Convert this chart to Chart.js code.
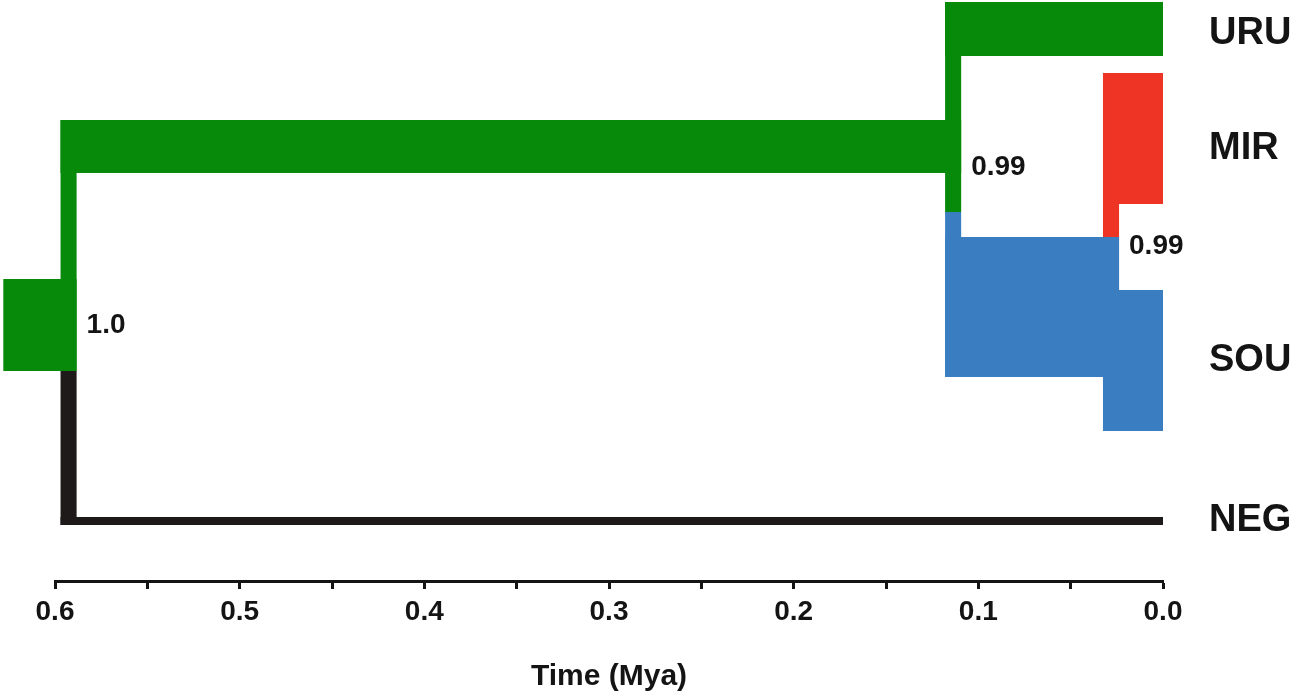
<!DOCTYPE html>
<html>
<head>
<meta charset="utf-8">
<style>
  html, body { margin: 0; padding: 0; background: #ffffff; }
  #wrap { width: 1293px; height: 697px; position: relative; }
</style>
<script src="https://cdn.jsdelivr.net/npm/chart.js@4.4.1/dist/chart.umd.min.js"></script>
</head>
<body>
<div id="wrap"><canvas id="chart"></canvas></div>
<script>
// ---------------- data ----------------
// tip populations and the lane (tree-layout units, top = 0) where each tip name sits
const taxa = ['URU', 'MIR', 'SOU', 'NEG'];
const taxonLane = [34, 149, 361, 521];

// divergence events (ages in Mya) with posterior support
const splitNames = ['root', '(URU,(MIR,SOU))', '(MIR,SOU)'];
const splitAge = [0.597, 0.118, 0.0325];
const splitSupport = ['1.0', '0.99', '0.99'];
const splitLabelLane = [325, 167, 246];
const splitMeetLane = [371, 212, 237];

// populations (branches); thickness of a branch = population size (lane units)
const popNames = ['root', 'URU+MIR+SOU', 'NEG', 'URU', 'MIR+SOU', 'MIR', 'SOU'];
const popStartAge = [0.628, 0.597, 0.597, 0.118, 0.118, 0.0325, 0.0325];
const popEndAge = [0.597, 0.118, 0, 0, 0.0325, 0, 0];
const popParentSplit = [-1, 0, 0, 1, 1, 2, 2];
const popLane = [325, 146.5, 521, 29, 307, 138.5, 360.5];
const popSize = [92, 53, 8, 54, 140, 131, 141];

// time axis
const xTickValues = [0, 0.05, 0.1, 0.15, 0.2, 0.25, 0.3, 0.35, 0.4, 0.45, 0.5, 0.55, 0.6];
const xTickLabels = ['0.0', '', '0.1', '', '0.2', '', '0.3', '', '0.4', '', '0.5', '', '0.6'];
const xTitle = 'Time (Mya)';

// ---------------- styles ----------------
const GREEN = '#078a0a', BLUE = '#3a7ec1', RED = '#ee3424', BLACK = '#1e1a19', INK = '#141414';
const popColor = [GREEN, GREEN, BLACK, GREEN, BLUE, RED, BLUE];
const CONNECTOR = 0.0087;      // thickness (Mya) of the vertical joins drawn at each split
const LANE_MAX = 581;          // tree-layout extent (top of the time axis)
const FONT = "'Liberation Sans', Arial, Helvetica, sans-serif";

Chart.defaults.font.family = FONT;

// pixel thickness of "n" lane units / "m" Mya, taken from the chart's own scales
const laneToPx = (chart, n) => Math.abs(chart.scales.y.getPixelForValue(n) - chart.scales.y.getPixelForValue(0));
const ageToPx = (chart, m) => Math.abs(chart.scales.x.getPixelForValue(m) - chart.scales.x.getPixelForValue(0));

function segment(label, points, color, widthFn) {
  return {
    type: 'line',
    label,
    data: points,
    parsing: true,
    showLine: true,
    fill: false,
    borderColor: color,
    backgroundColor: color,
    borderWidth: (ctx) => widthFn(ctx.chart),
    borderCapStyle: 'butt',
    borderJoinStyle: 'miter',
    pointRadius: 0,
    pointHoverRadius: 0,
    tension: 0,
    clip: false
  };
}

const datasets = [];
popNames.forEach((name, i) => {
  const internal = popEndAge[i] > 0;
  const end = internal ? popEndAge[i] - CONNECTOR : popEndAge[i];
  const size = popSize[i];
  // the branch itself: a band from its start age to its end age, as thick as the population
  datasets.push(segment(name,
    [{x: popStartAge[i], y: popLane[i]}, {x: end, y: popLane[i]}],
    popColor[i], (chart) => laneToPx(chart, size)));
  // the vertical join at the split it descends from
  const s = popParentSplit[i];
  if (s >= 0) {
    const meet = splitMeetLane[s];
    const above = popLane[i] < meet;
    const top = popLane[i] - size / 2;
    const bottom = popLane[i] + size / 2;
    const mid = splitAge[s] - CONNECTOR / 2;
    datasets.push(segment(name + ' stem',
      [{x: mid, y: above ? top : meet}, {x: mid, y: above ? meet : bottom}],
      popColor[i], (chart) => ageToPx(chart, CONNECTOR)));
  }
});
datasets.forEach((d, i) => { d.order = datasets.length - i; });

const treeText = {
  id: 'treeText',
  afterDraw(chart) {
    const {ctx, scales: {x, y}} = chart;
    ctx.save();
    ctx.fillStyle = INK;
    ctx.textBaseline = 'middle';
    ctx.textAlign = 'left';
    // tip names
    ctx.font = 'bold 38px ' + FONT;
    const nameX = x.getPixelForValue(0) + 46;
    taxa.forEach((t, i) => ctx.fillText(t, nameX, y.getPixelForValue(taxonLane[i])));
    // node supports
    ctx.font = 'bold 28px ' + FONT;
    splitSupport.forEach((s, i) => {
      ctx.fillText(s, x.getPixelForValue(splitAge[i] - CONNECTOR) + 10, y.getPixelForValue(splitLabelLane[i]));
    });
    ctx.restore();
  }
};

new Chart(document.getElementById('chart'), {
  type: 'scatter',
  data: {datasets},
  plugins: [treeText],
  options: {
    responsive: true,
    maintainAspectRatio: false,
    animation: false,
    events: [],
    layout: {padding: {left: 55, right: 130, top: 0, bottom: 0}},
    plugins: {legend: {display: false}, tooltip: {enabled: false}},
    scales: {
      x: {
        type: 'linear',
        reverse: true,
        min: 0,
        max: 0.6,
        afterBuildTicks: (s) => { s.ticks = xTickValues.map(v => ({value: v})); },
        afterFit: (s) => { s.height = 697 - LANE_MAX; },
        border: {display: true, width: 3, color: INK},
        grid: {display: true, drawOnChartArea: false, drawTicks: true, tickLength: 8, tickWidth: 3, tickColor: INK},
        ticks: {
          autoSkip: false,
          maxRotation: 0,
          padding: 6,
          color: INK,
          font: {size: 28, weight: 'bold'},
          callback: (v, i) => xTickLabels[i]
        },
        title: {display: true, text: xTitle, color: INK, font: {size: 30, weight: 'bold'}, padding: {top: 0, bottom: 2}}
      },
      y: {
        type: 'linear',
        reverse: true,
        min: 0,
        max: LANE_MAX,
        display: false
      }
    }
  }
});
</script>
</body>
</html>
